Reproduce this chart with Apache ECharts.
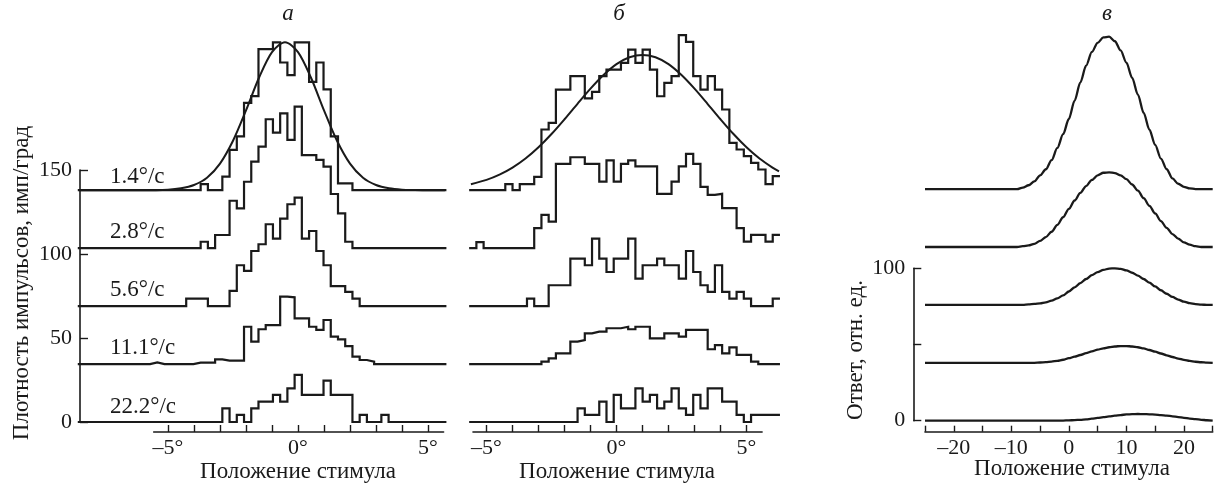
<!DOCTYPE html>
<html>
<head>
<meta charset="utf-8">
<script src="https://cdn.jsdelivr.net/npm/echarts@6/dist/echarts.min.js"></script>
<style>
  html, body { margin: 0; padding: 0; background: #fff; }
  #chart { width: 1220px; height: 488px; }
</style>
</head>
<body>
<div id="chart"></div>
<script>
// ширина бина гистограммы (град) и начало бинов в панелях а и б
const BIN = 0.278;
const A_START = -8.47;
const B_START = -5.667;

// сдвиг базовых линий по вертикали (имп/град)
const AB_OFFSETS = [138, 103.5, 69, 34.5, 0];
const SPEED_LABELS = ['1.4°/с', '2.8°/с', '5.6°/с', '11.1°/с', '22.2°/с'];

// панель а: высоты бинов
const A_14 = [0,0, 0,0,0,0,0,0,0,0,0,0,0,0,0,0,0, 3.6,0,0,8,24,32,52,56,84,84,88,76,68.5,88,88,64.5,76,60,32,4,4, 0,0,0,0,0,0,0,0,0,0,0,0,0];
const A_28 = [0,0, 0,0,0,0,0,0,0,0,0,0,0,0,0,0,0, 3.8,0,7.8,7.8,28.2,23.7,39.5,51.5,60.4,76.7,68.7,80.2,64.4,84.2,55.4,55.4,52.5,48.5,32.2,20.7,3.8, 0,0,0,0,0,0,0,0,0,0,0,0,0];
const A_56 = [0,0, 0,0,0,0,0,0,0,0,0,0,0,0,0, 4.4,4.4,4.4,0,0,0,9,24.3,20.9,32.8,36.8,48.7,40.1,52,60.6,64.5,40.1,44.7,32.8,24.3,11.9,11.9,8.4,4.4, 0,0,0,0,0,0,0,0,0,0,0,0];
const A_111 = [0,0, 0,0,0,0,0,0,0,0, 1, 0,0,0,0,0, 0.8,0.8,0.8,2.8,2,2,2,22.2,13.3,20.7,23.2,23.2,40.1,39.7,27.2,27.2,22.2,20.3,26.2,16.3,14.7,10.7,4.4,2.4,1.4, 0,0,0,0,0,0,0,0,0,0];
const A_222 = [0,0, 0,0,0,0,0,0,0,0,0,0,0,0,0,0,0,0,0,0, 8.1,0,4.2,0,8.1,12.1,12.1,16.1,12.1,20,28,16.1,16.1,16.1,24.6,16.1,16.1,16.1,0,4.2,0,0,4.2, 0,0,0,0,0,0,0,0];

// панель б: высоты бинов
const B_14 = [0,0,0,0,0, 3.6,0,3.6,3.6,7.9, 36.1,40.1,59.9,59.9,67.9, 67.9,54.6,58.5,67.9,71.8, 71.8,75.8,83.7,75.8,83.7, 71.8,55.9,63.9,67.9,92.3, 88.3,67.9,59.9,67.9,59.9, 48,28.2,24.2,20.2,16.2, 12.3,3.6,8.3];
const B_28 = [0,3.6,0,0,0, 0,0,0,0,11.9, 19.8,15.8,50.2,50.2,54.1, 54.1,50.2,50.2,39.6,52.2, 39.6,50.2,52.2,48.6,48.6, 48.6,32.3,32.3,39.6,48.6, 56.1,50.2,36.5,31.7,32.3, 23.8,23.8,11.9,3.9,7.9, 7.9,3.9,7.9];
const B_56 = [0,0,0,0,0, 0,0,0,4.4,0, 0,12.4,12.4,12.4,28.2, 28.2,24.3,40.1,28.2,20.3, 28.2,28.2,40.1,16.3,24.3, 24.3,28.2,24.3,24.3,16.3, 32.8,20.3,12.4,8.4,24.3, 8.4,4.4,8.4,4.4,0, 0,0,4.4];
const B_111 = [0,0,0,0,0, 0,0,0,0,0, 1.4,3.4,6.4,6.4,13.3, 14.3,18.3,19.3,19.3,21.3, 21.3,22.2,20.7,22.2,22.2, 15.3,15.3,18.3,18.3,16.3, 20.3,20.3,20.3,8.8,11.3, 6.4,9.9,5.4,5.4,1.4, 0,0,0];
const B_222 = [0,0,0,0,0, 0,0,0,0,0, 0,0,0,0,0, 8.1,4.2,4.2,12.1,0, 16.1,8.1,8.1,20,12.1, 16.1,8.1,12.1,20,8.1, 4.2,16.1,8.1,20,20, 12.1,12.1,4.2,0,4.2, 4.2,4.2,4.2];

// аппроксимирующие кривые для 1.4°/с
const FIT_A_X = [-8.4, -6, -5, -4.5, -4, -3.5, -3, -2.5, -2, -1.5, -1, -0.5, 0, 0.5, 1, 1.5, 2, 2.5, 3, 3.5, 4, 4.5, 5, 5.65];
const FIT_A_Y = [0, 0, 0.3, 1.1, 3.1, 7.4, 15.8, 29.4, 47.5, 66.9, 82.2, 88, 82.2, 66.9, 47.5, 29.4, 15.8, 7.4, 3.1, 1.1, 0.3, 0.1, 0, 0];
const FIT_B_X = [-5.6, -5, -4.5, -4, -3.5, -3, -2.5, -2, -1.5, -1, -0.5, 0, 0.5, 1, 1.5, 2, 2.5, 3, 3.5, 4, 4.5, 5, 5.5, 6, 6.25];
const FIT_B_Y = [3.5, 6.1, 9.2, 13.4, 18.8, 25.5, 33.4, 42.2, 51.4, 60.4, 68.5, 75, 79.1, 80.5, 79.1, 75, 68.5, 60.4, 51.4, 42.2, 33.4, 25.5, 18.8, 13.4, 11.2];

// панель в: x от -25 до 25 шаг 1
const C_OFFSETS = [152, 114, 76, 38, 0];
const C_1 = [0,0,0,0,0,0,0,0,0,0,0,0,0,0,0,0,0, 1,2.5,5,9,13,19,27,36,46,58,70,81,90,96,99.5,100,97,91,83,73,62,50,39,29,20,13,7,3.5,1.5,0.5, 0,0,0,0];
const C_2 = [0,0,0,0,0,0,0,0,0,0,0,0,0,0,0,0,0, 0.5,1,2,4,6.5,10,14.5,19.5,25,30.5,35.5,40,44,47,48.7,49,48.5,47,44.5,41,37,32,27,22,17,12.5,8.5,5.5,3,1.5, 0.5,0,0,0];
const C_3 = [0,0,0,0,0,0,0,0,0,0,0,0,0,0,0,0,0,0, 0.3,0.6,1,1.7,2.8,4.3,6.2,8.8,11.5,14.3,17,19.5,21.5,23,23.8,24,23.6,22.6,21.1,19.2,17,14.6,12.1,9.6,7.3,5.2,3.5,2.1,1.1,0.5,0.2, 0,0];
const C_4 = [0,0,0,0,0,0,0,0,0,0,0,0,0,0,0,0,0,0,0,0, 0.2,0.4,0.8,1.3,2,3,4,5.1,6.3,7.5,8.6,9.5,10.2,10.7,11,11,10.7,10.2,9.4,8.4,7.3,6.1,4.9,3.8,2.8,1.9,1.2,0.7,0.35,0.1,0];
const C_5 = [0,0,0,0,0,0,0,0,0,0,0,0,0,0,0,0,0,0,0,0,0,0,0,0, 0.1,0.2,0.4,0.6,0.9,1.3,1.8,2.3,2.8,3.3,3.7,4.1,4.3,4.4,4.3,4.2,4,3.7,3.3,2.9,2.4,1.9,1.4,1,0.6,0.3,0.1];

const INK = '#1a1a1a';
const FONT = 'Liberation Serif';
const PX = 26;          // пикселей на градус в панелях а и б
const A_ZERO = 298;     // положение 0° панели а
const B_ZERO = 616.5;   // положение 0° панели б

function histData(start, heights, offset) {
	let pts = heights.map((h, k) => [start + k * BIN, offset + h]);
	pts.push([start + heights.length * BIN, offset + heights[heights.length - 1]]);
	return pts;
}
function curveData(xs, ys, offset) {
	return xs.map((x, i) => [x, offset + ys[i]]);
}
function dash(v) {
	return v < 0 ? '\u2013' + (-v) : String(v);
}

const C_X = C_1.map((_, i) => i - 25);
const A_END = A_START + A_14.length * BIN;
const B_END = B_START + B_14.length * BIN;

let series = [];
const lineBase = {
	type: 'line', showSymbol: false, symbol: 'none', clip: false, silent: true,
	lineStyle: { color: INK, width: 2.2, join: 'miter' }
};
[A_14, A_28, A_56, A_111, A_222].forEach((h, i) => {
	series.push(Object.assign({}, lineBase, { xAxisIndex: 1, yAxisIndex: 1, step: 'end', data: histData(A_START, h, AB_OFFSETS[i]) }));
});
[B_14, B_28, B_56, B_111, B_222].forEach((h, i) => {
	series.push(Object.assign({}, lineBase, { xAxisIndex: 3, yAxisIndex: 3, step: 'end', data: histData(B_START, h, AB_OFFSETS[i]) }));
});
series.push(Object.assign({}, lineBase, { xAxisIndex: 1, yAxisIndex: 1, smooth: 0.3, data: curveData(FIT_A_X, FIT_A_Y, AB_OFFSETS[0]), lineStyle: { color: INK, width: 2 } }));
series.push(Object.assign({}, lineBase, { xAxisIndex: 3, yAxisIndex: 3, smooth: 0.3, data: curveData(FIT_B_X, FIT_B_Y, AB_OFFSETS[0]), lineStyle: { color: INK, width: 2 } }));
[C_1, C_2, C_3, C_4, C_5].forEach((h, i) => {
	series.push(Object.assign({}, lineBase, { xAxisIndex: 5, yAxisIndex: 5, smooth: 0.3, smoothMonotone: 'x', data: curveData(C_X, h, C_OFFSETS[i]), lineStyle: { color: INK, width: 2.3 } }));
});

const labelStyle = { fontFamily: FONT, fontSize: 22, color: INK };
function degAxis(grid, min, max) {
	return {
		gridIndex: grid, type: 'value', min: min, max: max, offset: 10,
		axisLine: { show: true, onZero: false, lineStyle: { color: INK, width: 1.6 } },
		axisTick: { show: true, inside: true, length: 7, customValues: [-5, -4, -3, -2, -1, 0, 1, 2, 3, 4, 5], lineStyle: { color: INK, width: 1.4 } },
		axisLabel: Object.assign({ customValues: [-5, 0, 5], margin: 5, formatter: v => dash(v) + '°' }, labelStyle),
		splitLine: { show: false }
	};
}
function hidden(grid, min, max) {
	return { gridIndex: grid, type: 'value', min: min, max: max, show: false };
}

let graphic = [];
SPEED_LABELS.forEach((t, i) => {
	graphic.push({ type: 'text', x: 110, y: [177, 232, 290, 348, 407][i],
		style: { text: t, font: '23px "Liberation Serif"', fill: INK, align: 'left', verticalAlign: 'middle', textAlign: 'left', textVerticalAlign: 'middle' } });
});
function txt(t, x, y, rot, italic) {
	return { type: 'text', x: x, y: y, rotation: rot || 0,
		style: { text: t, font: (italic ? 'italic ' : '') + '23px "Liberation Serif"', fill: INK,
			align: 'center', verticalAlign: 'middle', textAlign: 'center', textVerticalAlign: 'middle' } };
}
graphic.push(txt('а', 288, 14, 0, true));
graphic.push(txt('б', 619, 14, 0, true));
graphic.push(txt('в', 1107, 14, 0, true));
graphic.push(txt('Положение стимула', 298, 472));
graphic.push(txt('Положение стимула', 617, 472));
graphic.push(txt('Положение стимула', 1072, 469));
graphic.push(txt('Плотность импульсов, имп/град', 22, 283, Math.PI / 2));
graphic.push(txt('Ответ, отн. ед.', 856, 350, Math.PI / 2));

const option = {
	animation: false,
	backgroundColor: '#fff',
	grid: [
		// а: оси
		{ left: A_ZERO - 5.55 * PX, top: 170, width: 11.15 * PX, height: 252 },
		// а: данные
		{ left: A_ZERO + A_START * PX, top: 2, width: (A_END - A_START) * PX, height: 420 },
		// б: ось
		{ left: B_ZERO - 5.52 * PX, top: 170, width: 11.12 * PX, height: 252 },
		// б: данные
		{ left: B_ZERO + B_START * PX, top: 2, width: (B_END - B_START) * PX, height: 420 },
		// в: оси
		{ left: 925, top: 268.3, width: 287.7, height: 152.4 },
		// в: данные
		{ left: 925, top: 24.5, width: 287.7, height: 396.2 }
	],
	xAxis: [
		degAxis(0, -5.55, 5.6),
		hidden(1, A_START, A_END),
		degAxis(2, -5.52, 5.6),
		hidden(3, B_START, B_END),
		{
			gridIndex: 4, type: 'value', min: -25, max: 25, offset: 11,
			axisLine: { show: true, onZero: false, lineStyle: { color: INK, width: 1.6 } },
			axisTick: { show: true, inside: true, length: 6, customValues: [-25, -20, -15, -10, -5, 0, 5, 10, 15, 20, 25], lineStyle: { color: INK, width: 1.4 } },
			axisLabel: Object.assign({ customValues: [-20, -10, 0, 10, 20], margin: 6, formatter: v => dash(v) }, labelStyle),
			splitLine: { show: false }
		},
		hidden(5, -25, 25)
	],
	yAxis: [
		{
			gridIndex: 0, type: 'value', min: 0, max: 150, interval: 50, offset: 73.7,
			axisLine: { show: true, onZero: false, lineStyle: { color: INK, width: 1.6 } },
			axisTick: { show: true, inside: true, length: 8, lineStyle: { color: INK, width: 1.4 } },
			axisLabel: Object.assign({ margin: 8 }, labelStyle),
			splitLine: { show: false }
		},
		hidden(1, 0, 250),
		hidden(2, 0, 150),
		hidden(3, 0, 250),
		{
			gridIndex: 4, type: 'value', min: 0, max: 100, interval: 50, offset: 11.7,
			axisLine: { show: true, onZero: false, lineStyle: { color: INK, width: 1.6 } },
			axisTick: { show: true, inside: true, length: 8, lineStyle: { color: INK, width: 1.4 } },
			axisLabel: Object.assign({ customValues: [0, 100], margin: 8 }, labelStyle),
			splitLine: { show: false }
		},
		hidden(5, 0, 260)
	],
	graphic: graphic,
	series: series
};

let chart = echarts.init(document.getElementById('chart'));
chart.setOption(option);
</script>
</body>
</html>
